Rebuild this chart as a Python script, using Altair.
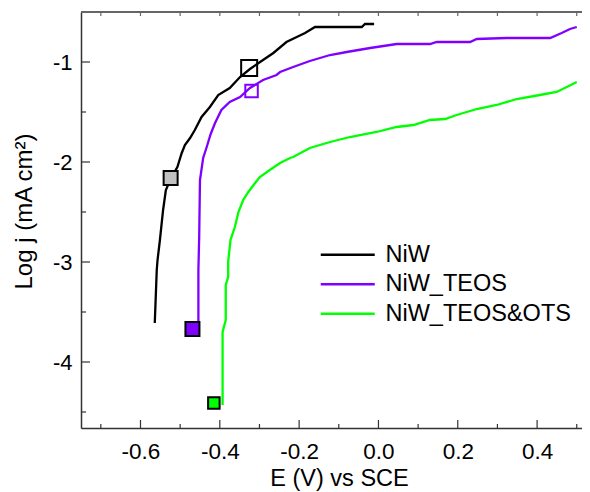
import altair as alt
import pandas as pd

# ---- data ----
series_names = ["NiW", "NiW_TEOS", "NiW_TEOS&OTS"]
series_colors = ["#000000", "#8000ff", "#00ff00"]

niw_E = [-0.564, -0.559, -0.557, -0.551, -0.543, -0.536, -0.524, -0.507, -0.496, -0.488,
         -0.475, -0.463, -0.446, -0.425, -0.404, -0.375, -0.349, -0.324, -0.291, -0.265,
         -0.232, -0.206, -0.185, -0.160, -0.042, -0.034, -0.011]
niw_J = [-3.61, -3.08, -2.98, -2.78, -2.48, -2.28, -2.17, -2.05, -1.91, -1.83,
         -1.76, -1.68, -1.55, -1.45, -1.33, -1.26, -1.15, -1.07, -0.98, -0.91,
         -0.80, -0.75, -0.71, -0.65, -0.65, -0.62, -0.62]

teos_E = [-0.454, -0.454, -0.452, -0.450, -0.442, -0.433, -0.423, -0.412, -0.396, -0.375,
          -0.349, -0.324, -0.291, -0.257, -0.248, -0.215, -0.173, -0.122, -0.080, -0.021,
          0.046, 0.130, 0.147, 0.231, 0.248, 0.323, 0.433, 0.462, 0.483, 0.500]
teos_J = [-3.60, -3.08, -2.75, -2.18, -1.96, -1.85, -1.72, -1.61, -1.48, -1.40,
          -1.35, -1.26, -1.18, -1.13, -1.10, -1.05, -0.99, -0.93, -0.90, -0.86,
          -0.82, -0.82, -0.80, -0.80, -0.77, -0.76, -0.76, -0.71, -0.67, -0.65]

ots_E = [-0.393, -0.393, -0.385, -0.385, -0.379, -0.379, -0.373, -0.362, -0.353, -0.341,
         -0.328, -0.311, -0.299, -0.274, -0.248, -0.223, -0.215, -0.173, -0.122, -0.072,
         -0.005, 0.046, 0.088, 0.130, 0.168, 0.197, 0.248, 0.298, 0.349, 0.407,
         0.449, 0.475, 0.500]
ots_J = [-4.43, -3.70, -3.58, -3.23, -3.15, -3.00, -2.78, -2.65, -2.50, -2.38,
         -2.30, -2.21, -2.15, -2.08, -2.01, -1.96, -1.95, -1.86, -1.80, -1.75,
         -1.70, -1.65, -1.63, -1.58, -1.57, -1.53, -1.47, -1.43, -1.37, -1.33,
         -1.30, -1.25, -1.20]

marker_E = [-0.326, -0.524, -0.320, -0.469, -0.415]
marker_J = [-1.06, -2.16, -1.29, -3.67, -4.41]
marker_fill = ["transparent", "#c0c0c0", "transparent", "#8000ff", "#00ff00"]
marker_stroke = ["#000000", "#000000", "#8000ff", "#000000", "#000000"]
marker_size = [256, 196, 156, 196, 132]

x_major = [-0.6, -0.4, -0.2, 0.0, 0.2, 0.4]
x_minor = [-0.7, -0.5, -0.3, -0.1, 0.1, 0.3, 0.5]
y_major = [-4, -3, -2, -1]
y_minor = [-4.5, -3.5, -2.5, -1.5]

W, H = 501, 416
X_DOMAIN = [-0.75, -0.75 + W / 396.6]
Y_DOMAIN = [-4.66, -0.5]
FONT = "Liberation Sans"
AXIS_COLOR = "#333333"

# ---- tables ----
rows = []
for name, es, js in zip(series_names, [niw_E, teos_E, ots_E], [niw_J, teos_J, ots_J]):
    for i, (e, j) in enumerate(zip(es, js)):
        rows.append({"series": name, "E": e, "logj": j, "i": i})
lines_df = pd.DataFrame(rows)

markers_df = pd.DataFrame({"E": marker_E, "logj": marker_J, "fill": marker_fill,
                           "stroke": marker_stroke, "size": marker_size})

xmaj_df = pd.DataFrame({"E": x_major})
xmin_df = pd.DataFrame({"E": x_minor})
ymaj_df = pd.DataFrame({"logj": y_major})
ymin_df = pd.DataFrame({"logj": y_minor})

lab = "replace(format(datum.value, '{}'), '\u2212', '-')"

x_enc = alt.X("E:Q", scale=alt.Scale(domain=X_DOMAIN, nice=False, zero=False),
              axis=alt.Axis(values=x_major, labelExpr=lab.format(".1f"), ticks=False, tickSize=0,
                            domain=True, domainColor=AXIS_COLOR, domainWidth=1.5,
                            grid=False, labelFontSize=22.5, labelFont=FONT,
                            labelColor="black", labelPadding=12, labelFlush=False,
                            title="E (V) vs SCE", titleFont=FONT, titleFontSize=23.5,
                            titleFontWeight="normal", titleColor="black",
                            titleBaseline="top", titleY=38, titleX=258))
y_enc = alt.Y("logj:Q", scale=alt.Scale(domain=Y_DOMAIN, nice=False, zero=False),
              axis=alt.Axis(values=y_major, labelExpr=lab.format("d"), ticks=False, tickSize=0,
                            domain=True, domainColor=AXIS_COLOR, domainWidth=1.5,
                            grid=False, labelFontSize=22, labelFont=FONT,
                            labelColor="black", labelPadding=9, labelFlush=False,
                            title="Log j (mA cm²)", titleFont=FONT, titleFontSize=24,
                            titleFontWeight="normal", titleColor="black",
                            titleX=-45, titleY=199))

lines = alt.Chart(lines_df).mark_line(strokeWidth=2.3).encode(
    x=x_enc, y=y_enc,
    color=alt.Color("series:N", scale=alt.Scale(domain=series_names, range=series_colors),
                    legend=alt.Legend(title=None, orient="none", legendX=273, legendY=231,
                                      symbolType="M-5,0L1,0", symbolSize=324,
                                      symbolStrokeWidth=2.5, labelFontSize=23.5, labelFont=FONT,
                                      labelColor="black", labelOffset=8, rowPadding=4.5,
                                      padding=0, labelLimit=400)),
    order=alt.Order("i:Q"),
)

markers = alt.Chart(markers_df).mark_point(shape="square", filled=False, strokeWidth=2,
                                           opacity=1).encode(
    x=x_enc, y=y_enc,
    fill=alt.Fill("fill:N", scale=None),
    stroke=alt.Stroke("stroke:N", scale=None),
    size=alt.Size("size:Q", scale=None),
)

top_line = alt.Chart(xmaj_df).mark_rule(color="#666666", strokeWidth=1.5).encode(
    x=alt.value(0), x2=alt.value(W), y=alt.value(0)
)
xt_major = alt.Chart(xmaj_df).mark_rule(color=AXIS_COLOR, strokeWidth=1.2).encode(
    x=x_enc, y=alt.value(H), y2=alt.value(H - 8)
)
xt_minor = alt.Chart(xmin_df).mark_rule(color=AXIS_COLOR, strokeWidth=1.2).encode(
    x=x_enc, y=alt.value(H), y2=alt.value(H - 4)
)
xt_top = alt.Chart(pd.concat([xmaj_df, xmin_df])).mark_rule(color="#666666", strokeWidth=1.2).encode(
    x=x_enc, y=alt.value(0), y2=alt.value(4)
)
yt_major = alt.Chart(ymaj_df).mark_rule(color=AXIS_COLOR, strokeWidth=1.2).encode(
    y=y_enc, x=alt.value(0), x2=alt.value(9)
)
yt_minor = alt.Chart(ymin_df).mark_rule(color=AXIS_COLOR, strokeWidth=1.2).encode(
    y=y_enc, x=alt.value(0), x2=alt.value(5)
)

chart = alt.layer(top_line, xt_major, xt_minor, xt_top, yt_major, yt_minor,
                  lines, markers).properties(
    width=W, height=H,
    autosize=alt.AutoSizeParams(type="none"),
    padding={"left": 73, "top": 4, "right": 0, "bottom": 64},
).configure_view(stroke="transparent").configure(background="white")

chart.save("out.html", embed_options={"renderer": "svg", "actions": False})
